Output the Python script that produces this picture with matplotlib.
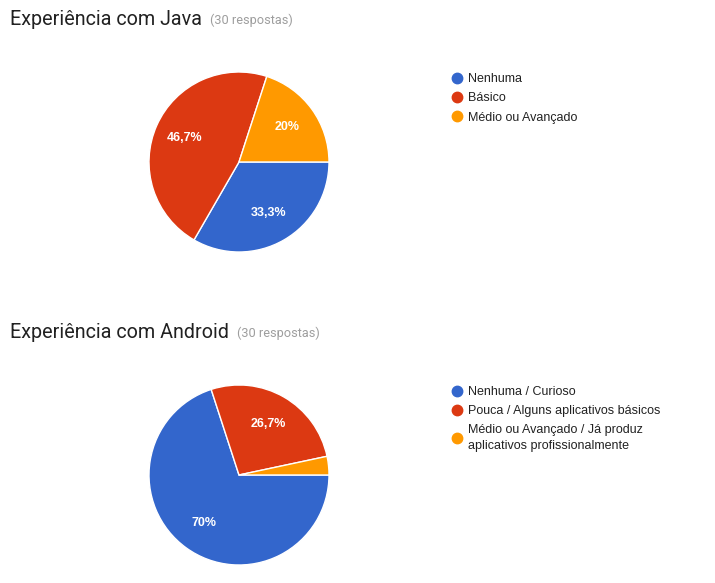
#! -*- coding: utf-8 -*-
import matplotlib
matplotlib.use('Agg')
import matplotlib.pyplot as plt
from matplotlib.lines import Line2D

#---------------------------------
# データ
#---------------------------------
java_title = 'Experiência com Java'
java_labels = ['Nenhuma', 'Básico', 'Médio ou Avançado']
java_counts = [10, 14, 6]

android_title = 'Experiência com Android'
android_labels = ['Nenhuma / Curioso', 'Pouca / Alguns aplicativos básicos',
                  'Médio ou Avançado / Já produz\naplicativos profissionalmente']
android_counts = [21, 8, 1]

n_respostas = 30
colors = ['#3366cc', '#dc3912', '#ff9900']

W, H = 715, 583


def fmt_pct(p):
    if p < 5:
        return ''
    s = '%.1f' % p
    if s.endswith('.0'):
        s = s[:-2]
    return s.replace('.', ',') + '%'


def draw_block(fig, title, labels, counts, top):
    # --- タイトル ---
    t = fig.text(10 / W, 1 - (top + 25) / H, title, fontsize=14.2,
                 family='Roboto', color='#212121', va='baseline')
    fig.canvas.draw()
    bb = t.get_window_extent()
    fig.text((bb.x1 + 8) / W, 1 - (top + 24) / H, '(%d respostas)' % n_respostas,
             fontsize=9.2, family='Roboto', color='#9e9e9e', va='baseline')

    # --- 円グラフ ---
    cy = top + 162
    r = 90
    ax = fig.add_axes([(239 - r) / W, (H - cy - r) / H, 2 * r / W, 2 * r / H])
    wedges, texts, autotexts = ax.pie(
        counts, colors=colors, startangle=0, counterclock=False,
        autopct=fmt_pct, pctdistance=0.66,
        wedgeprops=dict(edgecolor='white', linewidth=1),
        textprops=dict(color='white', fontsize=9, fontweight='bold',
                       family='Liberation Sans'))
    ax.set_xlim(-1, 1)
    ax.set_ylim(-1, 1)
    ax.set_aspect('equal')
    ax.axis('off')

    # --- 凡例 ---
    handles = [Line2D([], [], marker='o', linestyle='', markersize=7.5,
                      markerfacecolor=c, markeredgecolor=c) for c in colors]
    leg = fig.legend(handles, labels, loc='upper left',
                     bbox_to_anchor=(445.5 / W, 1 - (top + 68) / H),
                     frameon=False, handletextpad=0.38, handlelength=1.0,
                     labelspacing=0.58, borderaxespad=0,
                     prop=dict(family='Liberation Sans', size=9),
                     labelcolor='#222222')
    for txt in leg.get_texts():
        txt.set_linespacing(1.4)


def main():
    fig = plt.figure(figsize=(W / 100, H / 100), dpi=100)
    fig.patch.set_facecolor('white')
    draw_block(fig, java_title, java_labels, java_counts, 0)
    draw_block(fig, android_title, android_labels, android_counts, 313)
    fig.savefig('out.png', dpi=100)
    plt.close(fig)


if __name__ == '__main__':
    main()
